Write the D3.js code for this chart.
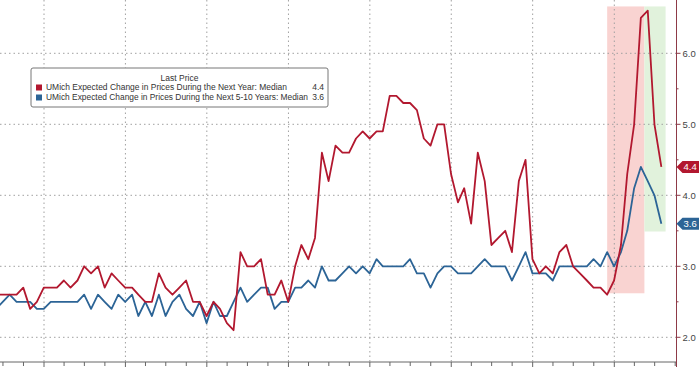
<!DOCTYPE html>
<html>
<head>
<meta charset="utf-8">
<script src="https://cdn.jsdelivr.net/npm/d3@7"></script>
<style>
	body { margin: 0; background: #fff; }
	svg { display: block; font-family: "Liberation Sans", Arial, sans-serif; }
</style>
</head>
<body>
<div id="chart"></div>
<script>
const width = 700;
const height = 367;

// monthly readings, first value is May 2017
const firstMonth = new Date(2017, 4, 1);
const oneYearAhead = [
	2.6, 2.6, 2.6, 2.6, 2.7, 2.4, 2.5, 2.7,
	2.7, 2.7, 2.8, 2.7, 2.8, 3.0, 2.9, 3.0, 2.7, 2.9, 2.8, 2.7,
	2.7, 2.6, 2.5, 2.5, 2.9, 2.7, 2.6, 2.7, 2.8, 2.5, 2.5, 2.3,
	2.5, 2.4, 2.2, 2.1, 3.2, 3.0, 3.0, 3.1, 2.6, 2.6, 2.8, 2.5,
	3.0, 3.3, 3.1, 3.4, 4.6, 4.2, 4.7, 4.6, 4.6, 4.8, 4.9, 4.8,
	4.9, 4.9, 5.4, 5.4, 5.3, 5.3, 5.2, 4.8, 4.7, 5.0, 5.0, 4.3,
	3.9, 4.1, 3.6, 4.6, 4.2, 3.3, 3.4, 3.5, 3.2, 4.2, 4.5, 3.1,
	2.9, 3.0, 2.9, 3.2, 3.3, 3.0, 2.9, 2.8, 2.7, 2.7, 2.6, 2.8,
	3.3, 4.3, 5.0, 6.5, 6.6, 5.0, 4.4,
];
const fiveToTenYears = [
	2.4, 2.5, 2.6, 2.5, 2.5, 2.5, 2.4, 2.4,
	2.5, 2.5, 2.5, 2.5, 2.5, 2.6, 2.4, 2.6, 2.5, 2.4, 2.6, 2.5,
	2.6, 2.3, 2.5, 2.3, 2.6, 2.3, 2.5, 2.6, 2.4, 2.3, 2.5, 2.2,
	2.5, 2.3, 2.3, 2.5, 2.7, 2.5, 2.6, 2.7, 2.7, 2.4, 2.5, 2.5,
	2.7, 2.7, 2.8, 2.7, 3.0, 2.8, 2.8, 2.9, 3.0, 2.9, 3.0, 2.9,
	3.1, 3.0, 3.0, 3.0, 3.0, 3.1, 2.9, 2.9, 2.7, 2.9, 3.0, 3.0,
	2.9, 2.9, 2.9, 3.0, 3.1, 3.0, 3.0, 3.0, 2.8, 3.0, 3.2, 2.9,
	2.9, 2.9, 2.8, 3.0, 3.0, 3.0, 3.0, 3.0, 3.1, 3.0, 3.2, 3.0,
	3.2, 3.5, 4.1, 4.4, 4.2, 4.0, 3.6,
];
const seriesNames = [
	"UMich Expected Change in Prices During the Next Year: Median",
	"UMich Expected Change in Prices During the Next 5-10 Years: Median",
];
const seriesColors = ["#b2182f", "#2c6496"];
const lastValues = ["4.4", "3.6"];
const yTicks = [2.0, 3.0, 4.0, 5.0, 6.0];
const yMinorTicks = [2.5, 3.5, 4.5, 5.5];

// highlighted spans: run-up from the Nov 2024 low, then the pull-back
const shadeBoxes = [
	{ from: new Date(2024, 10, 30), to: new Date(2025, 4, 16), low: 2.62, high: 6.66, fill: "#f9d3d1" },
	{ from: new Date(2025, 4, 16), to: new Date(2025, 7, 19), low: 3.49, high: 6.66, fill: "#e1f2dc" },
];

function monthEnd(i) {
	return d3.timeDay.offset(d3.timeMonth.offset(firstMonth, i + 1), -1);
}

function init() {
	const axisX = 676.5;
	const axisY = 362;

	const x = d3.scaleTime()
		.domain([new Date(2018, 0, 1), new Date(2025, 0, 1)])
		.range([44, 614.3]);
	const y = d3.scaleLinear()
		.domain([2, 6])
		.range([337.3, 53.3]);

	const svg = d3.select("#chart")
		.append("svg")
		.attr("width", width)
		.attr("height", height);

	svg.append("defs").append("clipPath")
		.attr("id", "plotClip")
		.append("rect")
		.attr("x", 0).attr("y", 0)
		.attr("width", axisX).attr("height", axisY);

	const plot = svg.append("g").attr("clip-path", "url(#plotClip)");

	plot.selectAll("rect.shade")
		.data(shadeBoxes)
		.enter()
		.append("rect")
		.attr("class", "shade")
		.attr("x", (d) => x(d.from))
		.attr("width", (d) => x(d.to) - x(d.from))
		.attr("y", (d) => y(d.high))
		.attr("height", (d) => y(d.low) - y(d.high))
		.attr("fill", (d) => d.fill);

	const leftDate = x.invert(0);
	const rightDate = x.invert(axisX);
	const years = d3.timeYear.range(d3.timeYear.ceil(leftDate), rightDate);

	plot.selectAll("line.vgrid")
		.data(years)
		.enter()
		.append("line")
		.attr("x1", (d) => x(d)).attr("x2", (d) => x(d))
		.attr("y1", 0).attr("y2", axisY)
		.attr("stroke", "#a0a0a0")
		.attr("stroke-width", 1)
		.attr("stroke-dasharray", "1.5,3");

	plot.selectAll("line.hgrid")
		.data(yTicks)
		.enter()
		.append("line")
		.attr("x1", 0).attr("x2", axisX)
		.attr("y1", (d) => y(d)).attr("y2", (d) => y(d))
		.attr("stroke", "#a0a0a0")
		.attr("stroke-width", 1)
		.attr("stroke-dasharray", "1.5,3");

	const line = d3.line()
		.x((_d, i) => x(monthEnd(i)))
		.y((d) => y(d));

	[fiveToTenYears, oneYearAhead].forEach((values, k) => {
		plot.append("path")
			.datum(values)
			.attr("fill", "none")
			.attr("stroke", seriesColors[1 - k])
			.attr("stroke-width", 1.8)
			.attr("stroke-linejoin", "round")
			.attr("d", line);
	});

	// bottom axis, quarter ticks
	svg.append("line")
		.attr("x1", 0).attr("x2", axisX)
		.attr("y1", axisY).attr("y2", axisY)
		.attr("stroke", "#666");
	const quarters = d3.timeMonth.every(3).range(leftDate, rightDate);
	svg.selectAll("line.xtick")
		.data(quarters)
		.enter()
		.append("line")
		.attr("x1", (d) => x(d)).attr("x2", (d) => x(d))
		.attr("y1", axisY)
		.attr("y2", (d) => axisY + (d.getMonth() === 0 ? 6 : 4))
		.attr("stroke", "#666");

	// right axis
	svg.append("line")
		.attr("x1", axisX).attr("x2", axisX)
		.attr("y1", 0).attr("y2", height)
		.attr("stroke", "#8e3a48");
	svg.selectAll("line.ytick")
		.data(yTicks)
		.enter()
		.append("line")
		.attr("x1", axisX).attr("x2", axisX + 4)
		.attr("y1", (d) => y(d)).attr("y2", (d) => y(d))
		.attr("stroke", "#8e3a48");
	svg.selectAll("line.yminor")
		.data(yMinorTicks)
		.enter()
		.append("line")
		.attr("x1", axisX).attr("x2", axisX + 2)
		.attr("y1", (d) => y(d)).attr("y2", (d) => y(d))
		.attr("stroke", "#8e3a48");
	svg.selectAll("text.ylabel")
		.data(yTicks)
		.enter()
		.append("text")
		.attr("x", axisX + 6)
		.attr("y", (d) => y(d))
		.attr("dy", "0.35em")
		.attr("font-size", "9.5px")
		.attr("fill", "#444")
		.text((d) => d.toFixed(1));

	// last value tags
	const tags = [oneYearAhead, fiveToTenYears].map((values, k) => ({
		value: values[values.length - 1],
		label: lastValues[k],
		color: seriesColors[k],
	}));
	tags.forEach((t) => {
		const cy = y(t.value);
		svg.append("path")
			.attr("d", `M${axisX},${cy} L${axisX + 6},${cy - 6} H699 V${cy + 6} H${axisX + 6} Z`)
			.attr("fill", t.color);
		svg.append("text")
			.attr("x", axisX + 7)
			.attr("y", cy)
			.attr("dy", "0.35em")
			.attr("font-size", "9.5px")
			.attr("fill", "#fff")
			.text(t.label);
	});

	// legend
	const legend = svg.append("g").attr("transform", "translate(31,68)");
	legend.append("rect")
		.attr("width", 297).attr("height", 39)
		.attr("rx", 2)
		.attr("fill", "#fff")
		.attr("stroke", "#777");
	legend.append("text")
		.attr("x", 148.5).attr("y", 10)
		.attr("dy", "0.35em")
		.attr("text-anchor", "middle")
		.attr("font-size", "8.5px")
		.attr("fill", "#333")
		.text("Last Price");
	const nameWidths = [241, 262];
	seriesNames.forEach((name, i) => {
		const row = legend.append("g").attr("transform", `translate(0,${19.5 + i * 10})`);
		row.append("rect")
			.attr("x", 5).attr("y", -3)
			.attr("width", 6).attr("height", 6)
			.attr("fill", seriesColors[i]);
		row.append("text")
			.attr("x", 15)
			.attr("dy", "0.35em")
			.attr("font-size", "8.5px")
			.attr("fill", "#333")
			.attr("textLength", nameWidths[i])
			.attr("lengthAdjust", "spacingAndGlyphs")
			.text(name);
		row.append("text")
			.attr("x", 293)
			.attr("dy", "0.35em")
			.attr("text-anchor", "end")
			.attr("font-size", "8.5px")
			.attr("fill", "#333")
			.text(lastValues[i]);
	});
}

init();
</script>
</body>
</html>
